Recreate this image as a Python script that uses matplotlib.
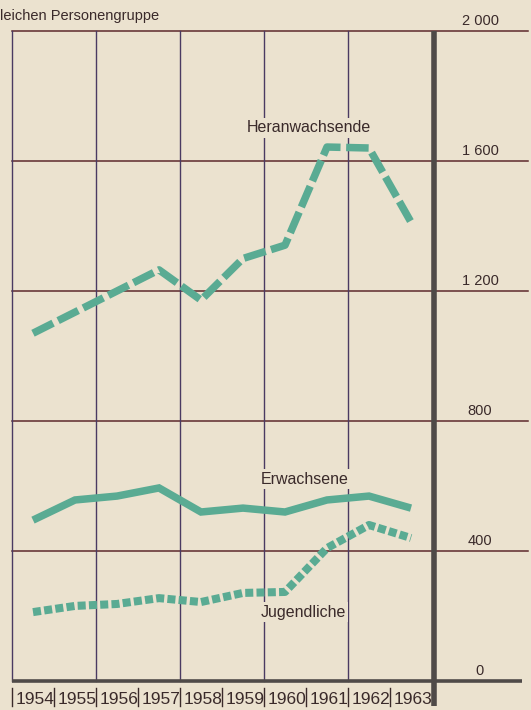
import matplotlib
matplotlib.use("Agg")
import matplotlib.pyplot as plt

years = [1954, 1955, 1956, 1957, 1958, 1959, 1960, 1961, 1962, 1963]
heranwachsende = [1070, 1135, 1200, 1265, 1172, 1300, 1341, 1643, 1640, 1412]
erwachsene = [495, 557, 569, 594, 520, 532, 520, 557, 569, 532]
jugendliche = [212, 231, 237, 255, 243, 271, 274, 409, 480, 440]
y_ticks = [0, 400, 800, 1200, 1600, 2000]
y_labels = ["0", "400", "800", "1 200", "1 600", "2 000"]

BG = "#ebe2cf"
TEAL = "#5aab93"
HLINE = "#5e2a2c"
VLINE = "#4a3a62"
AXIS = "#4f4a48"
TXT = "#3a2a2a"
FONT = ["Liberation Sans", "DejaVu Sans"]

W, H = 531, 710
fig = plt.figure(figsize=(W / 100, H / 100), dpi=100, facecolor=BG)
ax = fig.add_axes([0, 0, 1, 1])
ax.set_facecolor(BG)
ax.axis("off")

# map data to pixels: 42 px per year starting at x=12, 0 at y=681, 2000 at y=31
px_year = 42.0
x0 = 1953.5 - 12 / px_year
ax.set_xlim(x0, x0 + W / px_year)
px_val = 650 / 2000
y0 = -(H - 681) / px_val
ax.set_ylim(y0, y0 + H / px_val)


def px_x(p):
    return x0 + p / px_year


def px_y(p):
    return y0 + (H - p) / px_val


x_left = 1953.5
x_axis = 1963.5 + 2 / px_year

# horizontal grid lines
for v in y_ticks[1:]:
    ax.plot([x_left, px_x(528)], [v, v], color=HLINE, lw=1.1, zorder=1)
# vertical grid lines
for x in [1953.5, 1955.5, 1957.5, 1959.5, 1961.5]:
    ax.plot([x, x], [0, 2000], color=VLINE, lw=1.0, zorder=1)
# baseline and thick right axis
ax.plot([x_left, px_x(522)], [0, 0], color=AXIS, lw=2.6, zorder=3, solid_capstyle="butt")
ax.plot([x_axis, x_axis], [2000, px_y(706)], color=AXIS, lw=4.0, zorder=3, solid_capstyle="butt")

# year separators and labels
for i, yr in enumerate(years):
    ax.plot([yr - 0.5, yr - 0.5], [px_y(688), px_y(706)], color=TXT, lw=1.0)
    ax.text(yr + 0.04, px_y(699), str(yr), ha="center", va="center",
            fontsize=12.5, color=TXT, family=FONT)

# y labels
for v, lab in zip(y_ticks, y_labels):
    ax.text(px_x(480), v + 10 / px_val, lab, ha="center", va="center",
            fontsize=10.5, color=TXT, family=FONT)

# series
ax.plot(years, heranwachsende, color=TEAL, lw=5.4, linestyle=(0, (3.0, 0.75)),
        dash_capstyle="butt", solid_joinstyle="miter", zorder=4)
ax.plot(years, erwachsene, color=TEAL, lw=5.4, solid_joinstyle="miter",
        solid_capstyle="butt", zorder=4)
ax.plot(years, jugendliche, color=TEAL, lw=5.8, linestyle=(0, (1.0, 0.4)),
        dash_capstyle="butt", zorder=4)

# series labels
lab_kw = dict(ha="center", va="center", fontsize=11.5, color=TXT, family=FONT, zorder=5,
              bbox=dict(boxstyle="square,pad=0.15", fc=BG, ec="none"))
ax.text(px_x(309), px_y(128), "Heranwachsende", **lab_kw)
ax.text(px_x(305), px_y(479), "Erwachsene", **lab_kw)
ax.text(px_x(303), px_y(612), "Jugendliche", **lab_kw)

# cut-off heading
ax.text(px_x(0), px_y(16), "leichen Personengruppe", ha="left", va="center",
        fontsize=10.5, color=TXT, family=FONT)

fig.savefig("out.png", dpi=100, facecolor=BG)
